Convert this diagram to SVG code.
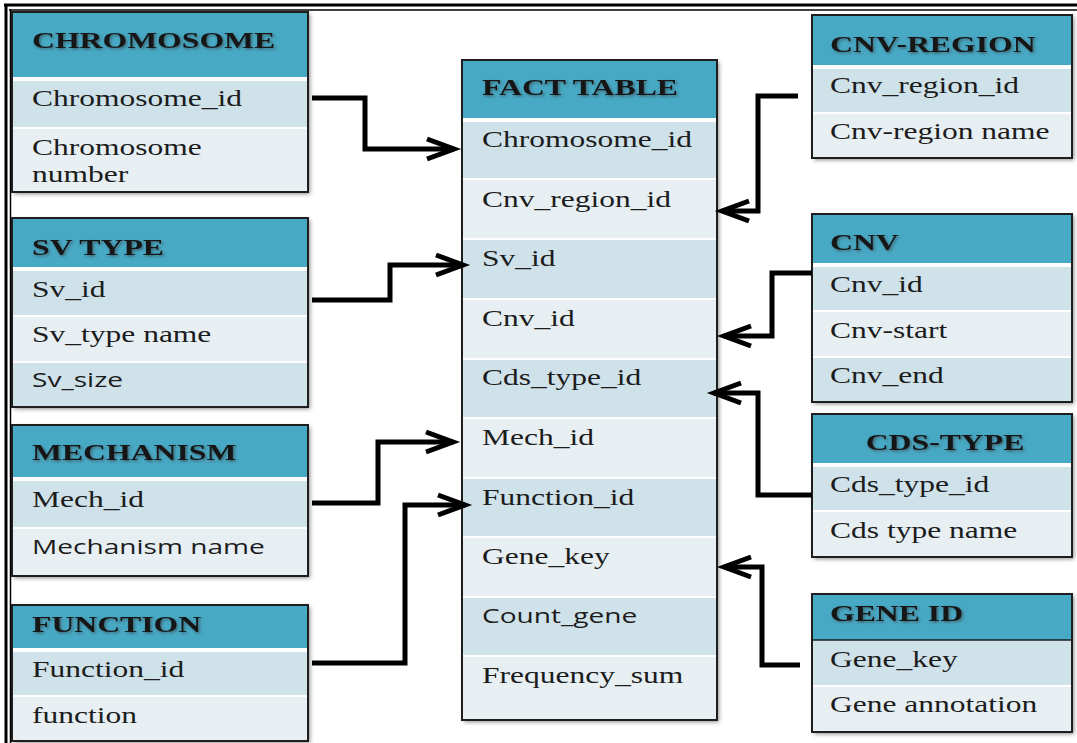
<svg xmlns="http://www.w3.org/2000/svg" width="1077" height="743" viewBox="0 0 1077 743">
<defs>
<style>
.hdr{fill:#48a9c5}
.dk{fill:#cfe2ea}
.lt{fill:#e7eff3}
.sep{fill:#ffffff}
.brd{fill:none;stroke:#1e1e1e;stroke-width:2}
.hd{font-family:"Liberation Serif",serif;font-weight:bold;font-size:23px;fill:#141414;filter:url(#ts)}
.tx{font-family:"Liberation Serif",serif;font-size:23px;fill:#1c1c1c}
.sn{font-family:"Open Sans","Noto Sans",sans-serif;font-size:20.5px;fill:#1c1c1c}
.con{fill:none;stroke:#000;stroke-width:5;stroke-linejoin:miter}
</style>
<filter id="ts" x="-10%" y="-30%" width="120%" height="160%">
<feDropShadow dx="1" dy="1.5" stdDeviation="1" flood-color="#333" flood-opacity="0.6"/>
</filter>
<filter id="bs" x="-5%" y="-5%" width="112%" height="112%">
<feDropShadow dx="2" dy="2" stdDeviation="2" flood-color="#000" flood-opacity="0.45"/>
</filter>
<marker id="arr" markerUnits="userSpaceOnUse" markerWidth="40" markerHeight="30" viewBox="-32 -15 40 30" refX="0" refY="0" orient="auto">
<path d="M-27,-10 L0,0 L-27,10" fill="none" stroke="#000" stroke-width="5"/>
</marker>
</defs>
<rect width="1077" height="743" fill="#ffffff"/>
<g id="frame">
<line x1="4" y1="5" x2="1077" y2="5" stroke="#000" stroke-width="3"/>
<line x1="9" y1="10" x2="1077" y2="10" stroke="#000" stroke-width="1.5"/>
<line x1="6" y1="4" x2="6" y2="743" stroke="#000" stroke-width="3"/>
<line x1="10.5" y1="9" x2="10.5" y2="743" stroke="#000" stroke-width="1.5"/>
</g>

<g id="chromosome">
<rect x="12" y="12" width="296" height="180" class="sep" filter="url(#bs)"/>
<rect x="12" y="12" width="296" height="65" class="hdr"/>
<rect x="12" y="81" width="296" height="46" class="dk"/>
<rect x="12" y="129" width="296" height="63" class="lt"/>
<rect x="12" y="12" width="296" height="180" class="brd"/>
<text class="hd" transform="translate(32,48) scale(1.38,1)">CHROMOSOME</text>
<text class="tx" transform="translate(32,106) scale(1.37,1)">Chromosome_id</text>
<text class="tx" transform="translate(32,155) scale(1.37,1)">Chromosome</text>
<text class="tx" transform="translate(32,182) scale(1.37,1)">number</text>
</g>

<g id="sv-type">
<rect x="12" y="218" width="296" height="189" class="sep" filter="url(#bs)"/>
<rect x="12" y="218" width="296" height="49" class="hdr"/>
<rect x="12" y="271" width="296" height="44" class="dk"/>
<rect x="12" y="317" width="296" height="44" class="lt"/>
<rect x="12" y="363" width="296" height="44" class="dk"/>
<rect x="12" y="218" width="296" height="189" class="brd"/>
<text class="hd" transform="translate(32,255) scale(1.38,1)">SV TYPE</text>
<text class="tx" transform="translate(32,297) scale(1.37,1)">Sv_id</text>
<text class="tx" transform="translate(32,342) scale(1.37,1)">Sv_type name</text>
<text class="sn" transform="translate(32,387) scale(1.37,1)">Sv_size</text>
</g>

<g id="mechanism">
<rect x="12" y="425" width="296" height="151" class="sep" filter="url(#bs)"/>
<rect x="12" y="425" width="296" height="52" class="hdr"/>
<rect x="12" y="481" width="296" height="46" class="dk"/>
<rect x="12" y="529" width="296" height="47" class="lt"/>
<rect x="12" y="425" width="296" height="151" class="brd"/>
<text class="hd" transform="translate(32,460) scale(1.38,1)">MECHANISM</text>
<text class="tx" transform="translate(32,507) scale(1.37,1)">Mech_id</text>
<text class="sn" transform="translate(32,554) scale(1.37,1)">Mechanism name</text>
</g>

<g id="function">
<rect x="12" y="605" width="296" height="136" class="sep" filter="url(#bs)"/>
<rect x="12" y="605" width="296" height="43" class="hdr"/>
<rect x="12" y="652" width="296" height="43" class="dk"/>
<rect x="12" y="697" width="296" height="44" class="lt"/>
<rect x="12" y="605" width="296" height="136" class="brd"/>
<text class="hd" transform="translate(32,632) scale(1.38,1)">FUNCTION</text>
<text class="tx" transform="translate(32,677) scale(1.37,1)">Function_id</text>
<text class="tx" transform="translate(32,723) scale(1.37,1)">function</text>
</g>

<g id="fact-table">
<rect x="462" y="60" width="255" height="660" class="sep" filter="url(#bs)"/>
<rect x="462" y="60" width="255" height="58" class="hdr"/>
<rect x="462" y="122" width="255" height="56" class="dk"/>
<rect x="462" y="180" width="255" height="58" class="lt"/>
<rect x="462" y="240" width="255" height="58" class="dk"/>
<rect x="462" y="300" width="255" height="58" class="lt"/>
<rect x="462" y="360" width="255" height="57" class="dk"/>
<rect x="462" y="419" width="255" height="58" class="lt"/>
<rect x="462" y="479" width="255" height="57" class="dk"/>
<rect x="462" y="538" width="255" height="58" class="lt"/>
<rect x="462" y="598" width="255" height="57" class="dk"/>
<rect x="462" y="657" width="255" height="63" class="lt"/>
<rect x="462" y="60" width="255" height="660" class="brd"/>
<text class="hd" transform="translate(482,95) scale(1.38,1)">FACT TABLE</text>
<text class="tx" transform="translate(482,147) scale(1.37,1)">Chromosome_id</text>
<text class="tx" transform="translate(482,207) scale(1.37,1)">Cnv_region_id</text>
<text class="tx" transform="translate(482,266) scale(1.37,1)">Sv_id</text>
<text class="tx" transform="translate(482,326) scale(1.37,1)">Cnv_id</text>
<text class="tx" transform="translate(482,385) scale(1.37,1)">Cds_type_id</text>
<text class="tx" transform="translate(482,445) scale(1.37,1)">Mech_id</text>
<text class="tx" transform="translate(482,505) scale(1.37,1)">Function_id</text>
<text class="tx" transform="translate(482,564) scale(1.37,1)">Gene_key</text>
<text class="sn" transform="translate(482,623) scale(1.37,1)">Count_gene</text>
<text class="tx" transform="translate(482,683) scale(1.37,1)">Frequency_sum</text>
</g>

<g id="cnv-region">
<rect x="812" y="15" width="260" height="143" class="sep" filter="url(#bs)"/>
<rect x="812" y="15" width="260" height="50" class="hdr"/>
<rect x="812" y="69" width="260" height="43" class="dk"/>
<rect x="812" y="114" width="260" height="44" class="lt"/>
<rect x="812" y="15" width="260" height="143" class="brd"/>
<text class="hd" transform="translate(830,52) scale(1.38,1)">CNV-REGION</text>
<text class="tx" transform="translate(830,93) scale(1.37,1)">Cnv_region_id</text>
<text class="tx" transform="translate(830,139) scale(1.37,1)">Cnv-region name</text>
</g>

<g id="cnv">
<rect x="812" y="214" width="260" height="188" class="sep" filter="url(#bs)"/>
<rect x="812" y="214" width="260" height="49" class="hdr"/>
<rect x="812" y="267" width="260" height="43" class="dk"/>
<rect x="812" y="312" width="260" height="44" class="lt"/>
<rect x="812" y="358" width="260" height="44" class="dk"/>
<rect x="812" y="214" width="260" height="188" class="brd"/>
<text class="hd" transform="translate(830,250) scale(1.38,1)">CNV</text>
<text class="tx" transform="translate(830,292) scale(1.37,1)">Cnv_id</text>
<text class="tx" transform="translate(830,338) scale(1.37,1)">Cnv-start</text>
<text class="tx" transform="translate(830,383) scale(1.37,1)">Cnv_end</text>
</g>

<g id="cds-type">
<rect x="812" y="414" width="260" height="143" class="sep" filter="url(#bs)"/>
<rect x="812" y="414" width="260" height="49" class="hdr"/>
<rect x="812" y="467" width="260" height="43" class="dk"/>
<rect x="812" y="512" width="260" height="45" class="lt"/>
<rect x="812" y="414" width="260" height="143" class="brd"/>
<text class="hd" text-anchor="middle" transform="translate(945,450) scale(1.38,1)">CDS-TYPE</text>
<text class="tx" transform="translate(830,492) scale(1.37,1)">Cds_type_id</text>
<text class="tx" transform="translate(830,538) scale(1.37,1)">Cds type name</text>
</g>

<g id="gene-id">
<rect x="812" y="594" width="260" height="138" class="sep" filter="url(#bs)"/>
<rect x="812" y="594" width="260" height="46" class="hdr"/>
<rect x="812" y="640" width="260" height="45" class="dk"/>
<rect x="812" y="687" width="260" height="45" class="lt"/>
<line x1="812" y1="640" x2="1072" y2="640" stroke="#1e1e1e" stroke-width="1.5"/>
<rect x="812" y="594" width="260" height="138" class="brd"/>
<text class="hd" transform="translate(830,621) scale(1.38,1)">GENE ID</text>
<text class="tx" transform="translate(830,667) scale(1.37,1)">Gene_key</text>
<text class="tx" transform="translate(830,712) scale(1.37,1)">Gene annotation</text>
</g>

<g id="connectors">
<polyline class="con" marker-end="url(#arr)" points="312,98 365,98 365,149 454,149"/>
<polyline class="con" marker-end="url(#arr)" points="312,300 390,300 390,265 463,265"/>
<polyline class="con" marker-end="url(#arr)" points="312,503 378,503 378,442 453,442"/>
<polyline class="con" marker-end="url(#arr)" points="312,663 405,663 405,505 465,505"/>
<polyline class="con" marker-end="url(#arr)" points="798,96 758,96 758,211 722,211"/>
<polyline class="con" marker-end="url(#arr)" points="812,273 772,273 772,336 724,336"/>
<polyline class="con" marker-end="url(#arr)" points="812,495 758,495 758,393 714,393"/>
<polyline class="con" marker-end="url(#arr)" points="800,665 762,665 762,567 724,567"/>
</g>
</svg>
